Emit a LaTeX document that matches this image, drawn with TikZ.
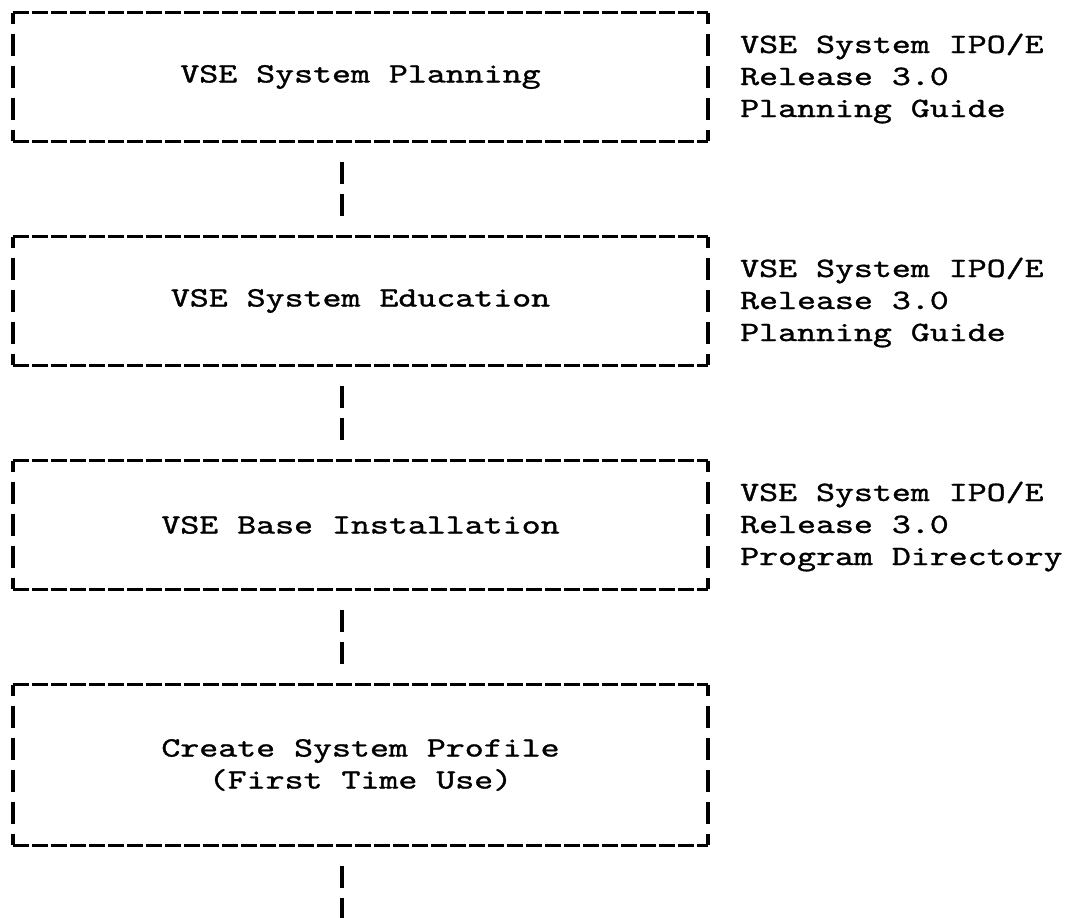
\documentclass[tikz,border=0pt]{standalone}
\usepackage{fontspec}
\usepackage{graphicx}
\usetikzlibrary{calc}
\newfontfamily\tw{lmmono10-regular.otf}[FakeBold=1.0]
\newcommand\twx[1]{\scalebox{1.29}[1]{#1}}
\newcommand\tframe[2]{%
  \draw[hline] (#1.north west) -- (#1.north east);
  \draw[hline] (#1.south west) -- (#1.south east);
  \draw[vbar] (#1.north west) -- ++(0,11);
  \draw[vbar] (#1.north east) -- ++(0,11);
  \draw[vbar] (#1.south west) -- ++(0,-11);
  \draw[vbar] (#1.south east) -- ++(0,-11);
  \foreach \r in {1,...,#2} {
    \draw[vbar] ($(#1.north west)+(0,{32*\r-11})$) -- ++(0,22);
    \draw[vbar] ($(#1.north east)+(0,{32*\r-11})$) -- ++(0,22);
  }%
}
\begin{document}
\begin{tikzpicture}[x=1pt,y=-1pt,
  every node/.style={font=\tw\fontsize{28}{32}\selectfont, inner sep=0pt},
  boxnode/.style={minimum width=695pt, minimum height=128pt, align=center},
  hline/.style={line width=3.2pt, dash pattern=on 16.5pt off 2.5pt},
  vbar/.style={line width=3.5pt},
  conn/.style={line width=3.5pt, dash pattern=on 22pt off 10pt, shorten <=21pt, shorten >=21pt},
  reftext/.style={anchor=base west}
]
\useasboundingbox (0,0) rectangle (1069,918);

\node[boxnode] (b1) at (360.5,77) {\twx{VSE System Planning}};
\node[boxnode] (b2) at (360.5,301) {\twx{VSE System Education}};
\node[boxnode] (b3) at (360.5,525) {\twx{VSE Base Installation}};
\node[boxnode, minimum height=160pt] (b4) at (360.5,765) {\twx{Create System Profile}\\\twx{(First Time Use)}};

\tframe{b1}{3}
\tframe{b2}{3}
\tframe{b3}{3}
\tframe{b4}{4}

\coordinate (end) at (342,941);
\draw[conn] ([xshift=-18.5pt]b1.south) -- ([xshift=-18.5pt]b2.north);
\draw[conn] ([xshift=-18.5pt]b2.south) -- ([xshift=-18.5pt]b3.north);
\draw[conn] ([xshift=-18.5pt]b3.south) -- ([xshift=-18.5pt]b4.north);
\draw[conn] ([xshift=-18.5pt]b4.south) -- (end);

\node[reftext] (r1a) at (740,53) {\twx{VSE System IPO/E}};
\node[reftext] (r1b) at (740,85) {\twx{Release 3.0}};
\node[reftext] (r1c) at (740,117) {\twx{Planning Guide}};
\node[reftext] (r2a) at (740,277) {\twx{VSE System IPO/E}};
\node[reftext] (r2b) at (740,309) {\twx{Release 3.0}};
\node[reftext] (r2c) at (740,341) {\twx{Planning Guide}};
\node[reftext] (r3a) at (740,501) {\twx{VSE System IPO/E}};
\node[reftext] (r3b) at (740,533) {\twx{Release 3.0}};
\node[reftext] (r3c) at (740,565) {\twx{Program Directory}};
\end{tikzpicture}
\end{document}
